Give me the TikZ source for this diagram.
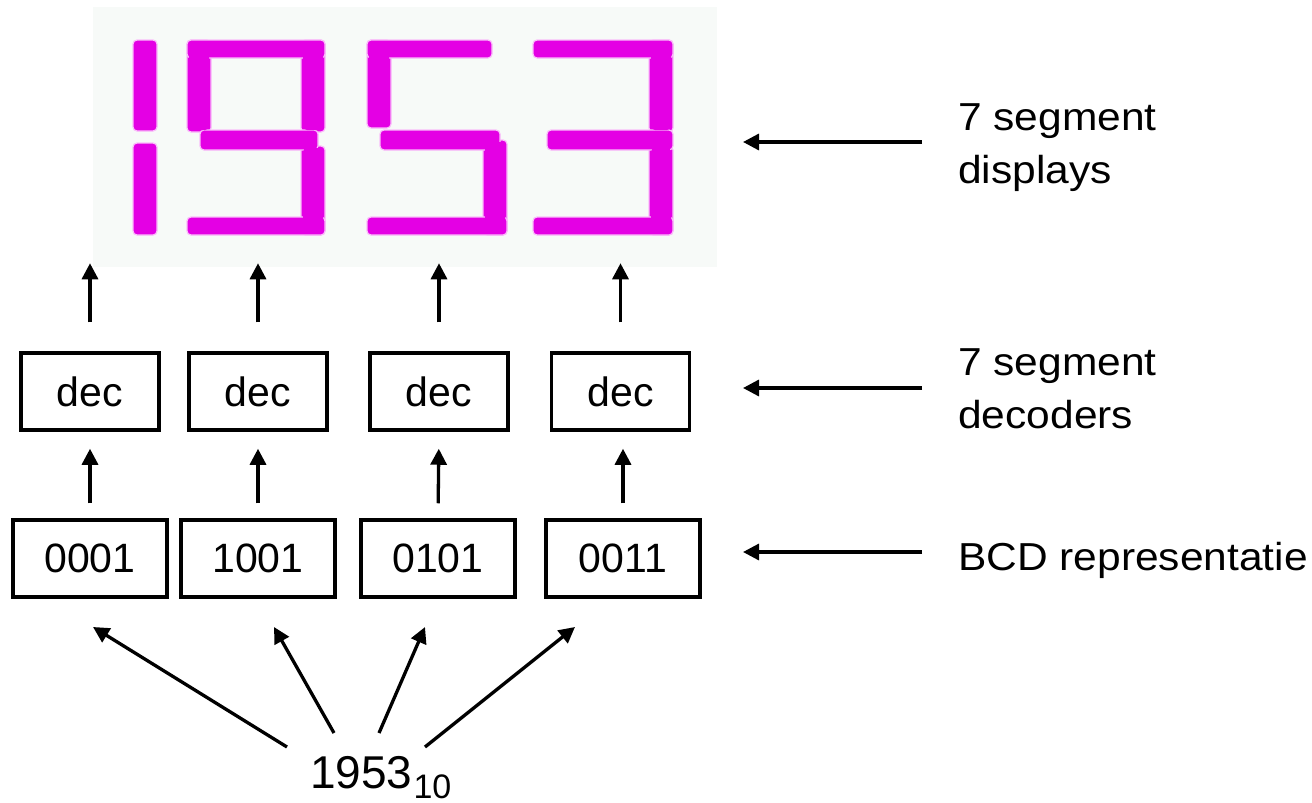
\documentclass[tikz,border=0pt]{standalone}
\usepackage{fontspec}
\setmainfont{Liberation Sans}
\newfontfamily\lblfont[FakeStretch=1.09]{Liberation Sans}
\usetikzlibrary{arrows.meta}
\definecolor{segc}{RGB}{228,0,228}
\definecolor{segglow}{RGB}{250,190,250}
\definecolor{dispbg}{RGB}{247,250,248}
\begin{document}
\begin{tikzpicture}[x=1pt,y=-1pt,
  seg/.style={fill=segc, draw=segglow, line width=1.2pt, rounded corners=4pt},
  segfill/.style={fill=segc, rounded corners=4pt},
  arr/.style={line width=3.3pt, -{Triangle[length=16pt,width=16pt]}},
  decbox/.style={draw, line width=3.5pt, minimum width=138pt, minimum height=77pt, inner sep=0pt,
    font=\fontsize{41}{48}\selectfont},
  bcdbox/.style={draw, line width=3.5pt, minimum width=154pt, minimum height=77pt, inner sep=0pt,
    font=\fontsize{41}{48}\selectfont},
  lbl/.style={anchor=base west, align=left, inner sep=0pt, font=\lblfont\fontsize{39}{53}\selectfont}
]
\useasboundingbox (0,0) rectangle (1312,803);

% display background
\fill[dispbg] (93,7) rectangle (717,267);

% digit 1
\fill[seg] (133,40) rectangle (157,131);
\fill[seg] (133,143) rectangle (157,235);
% digit 9
\fill[seg] (187,40) rectangle (211,132);
\fill[seg] (301,40) rectangle (325,132);
\fill[seg] (301,146) rectangle (325,235);
\fill[seg] (187,40) rectangle (325,58);
\fill[seg] (200,130) rectangle (318,150);
\fill[seg] (187,217) rectangle (325,235);
\fill[segfill] (189,42) rectangle (209,130);
\fill[segfill] (303,42) rectangle (323,130);
\fill[segfill] (303,148) rectangle (323,233);
% digit 5
\fill[seg] (367,40) rectangle (391,128);
\fill[seg] (483,140) rectangle (507,235);
\fill[seg] (367,40) rectangle (492,58);
\fill[seg] (380,130) rectangle (500,150);
\fill[seg] (367,217) rectangle (507,235);
\fill[segfill] (369,42) rectangle (389,126);
\fill[segfill] (485,142) rectangle (505,233);
% digit 3
\fill[seg] (649,40) rectangle (673,132);
\fill[seg] (649,146) rectangle (673,235);
\fill[seg] (533,40) rectangle (673,58);
\fill[seg] (547,130) rectangle (673,150);
\fill[seg] (533,217) rectangle (673,235);
\fill[segfill] (651,42) rectangle (671,130);
\fill[segfill] (651,148) rectangle (671,233);

% decoder boxes
\node[decbox] (dec1) at (90,391.5) {dec};
\node[decbox] (dec2) at (258,391.5) {dec};
\node[decbox] (dec3) at (439,391.5) {dec};
\node[decbox] (dec4) at (620.5,391.5) {dec};

% BCD boxes
\node[bcdbox] (bcd1) at (90,558.5) {0001};
\node[bcdbox] (bcd2) at (258,558.5) {1001};
\node[bcdbox] (bcd3) at (438,558.5) {0101};
\node[bcdbox] (bcd4) at (623,558.5) {0011};

% decimal number
\node[anchor=base west, inner sep=0pt] (num) at (310,788)
  {\fontsize{46}{50}\selectfont 1953\hspace{1pt}\raisebox{-10pt}{\fontsize{34}{40}\selectfont 10}};

% arrows to display
\foreach \i in {1,2,3,4}{
  \draw[arr] ([yshift=29pt]dec\i.north) -- ++(0,-59);
}
% arrows bcd -> dec
\foreach \i in {1,2,3}{
  \draw[arr, shorten <=15pt, shorten >=17pt] (bcd\i.north) -- (dec\i.south);
}
\draw[arr, shorten <=15pt, shorten >=17pt] (bcd4.north) -- (bcd4.north |- dec4.south);

% arrows from number to bcd
\coordinate (s1) at (287,747);
\coordinate (s2) at (334,733);
\coordinate (s3) at (379,733);
\coordinate (s4) at (425,747);
\coordinate (e1) at (93,627);
\coordinate (e2) at (274,627);
\coordinate (e3) at (425,627);
\coordinate (e4) at (575,627);
\foreach \i in {1,2,3,4}{
  \draw[arr] (s\i) -- (e\i);
}

% labels (base anchor = last line baseline)
\node[lbl] (lab1) at (958,183) {7 segment\\displays};
\node[lbl] (lab2) at (958,428) {7 segment\\decoders};
\node[lbl] (lab3) at (958,570) {BCD representatie};

\coordinate (r1t) at (922,142);
\coordinate (r1h) at (743,142);
\coordinate (r2t) at (922,388);
\coordinate (r2h) at (743,388);
\coordinate (r3t) at (922,552);
\coordinate (r3h) at (743,552);
\draw[arr] (r1t) -- (r1h);
\draw[arr] (r2t) -- (r2h);
\draw[arr] (r3t) -- (r3h);
\end{tikzpicture}
\end{document}
